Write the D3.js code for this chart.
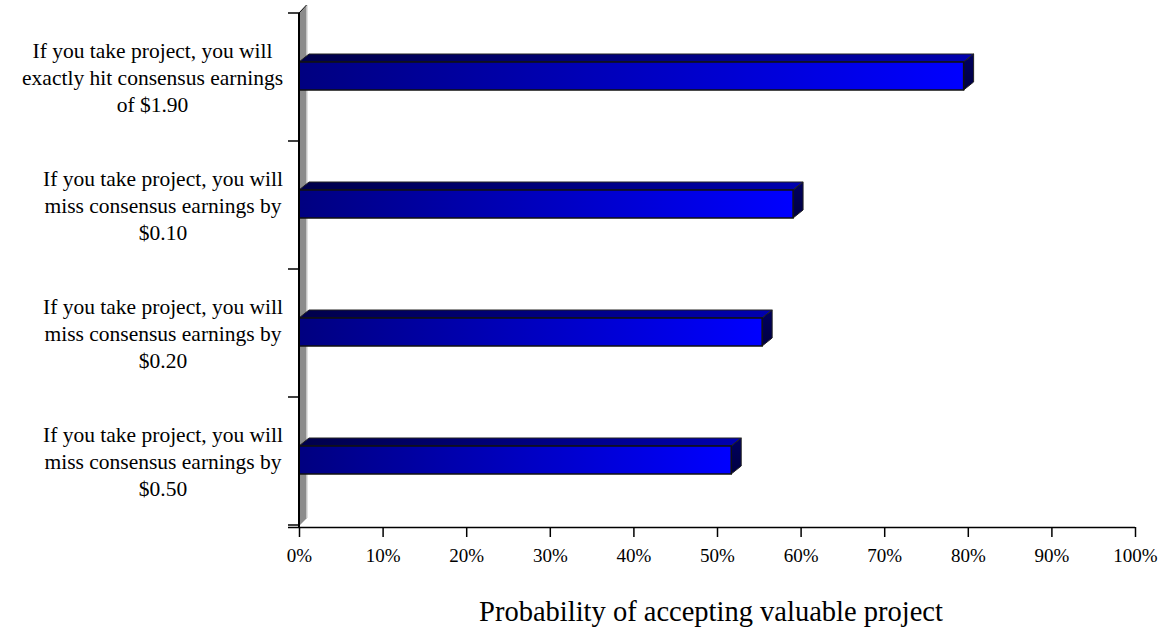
<!DOCTYPE html>
<html><head><meta charset="utf-8">
<script src="https://cdn.jsdelivr.net/npm/d3@7"></script>
<style>body{margin:0;background:#fff}svg{display:block}text{font-family:"Liberation Serif","Times New Roman",serif;fill:#000}</style>
</head><body><svg id="c" width="1168" height="629"></svg>
<script>
const categories = [
  ["If you take project, you will", "exactly hit consensus earnings", "of $1.90"],
  ["If you take project, you will", "miss consensus earnings by", "$0.10"],
  ["If you take project, you will", "miss consensus earnings by", "$0.20"],
  ["If you take project, you will", "miss consensus earnings by", "$0.50"]
];
const values = [79.5, 59.1, 55.4, 51.7];
const xTicks = [0,10,20,30,40,50,60,70,80,90,100];
const axisTitle = "Probability of accepting valuable project";

const svg = d3.select("#c");
const L = 299, R = 1135, T = 13, B = 525;
const dx = 10, dy = 8, barH = 28, wallD = 8;
const x = d3.scaleLinear().domain([0,100]).range([L,R]);
const y = d3.scaleBand().domain(d3.range(categories.length)).range([T,B]).padding(0);

const defs = svg.append("defs");
function grad(id, c0, c1, vertical){
  const g = defs.append("linearGradient").attr("id",id).attr("x1",0).attr("y1",0)
    .attr("x2",vertical?0:1).attr("y2",vertical?1:0);
  g.append("stop").attr("offset","0%").attr("stop-color",c0);
  g.append("stop").attr("offset","100%").attr("stop-color",c1);
}
grad("gFront","#000080","#0000ff");
grad("gTop","#00004a","#0000b0");
grad("gSide","#000060","#000040",true);

// side wall (3D)
svg.append("path")
  .attr("d",`M${L},${T} L${L+wallD},${T-dy} L${L+wallD},${B+1-dy} L${L},${B+1} Z`)
  .attr("fill","#8c8c8c").attr("stroke","none");
svg.append("line").attr("x1",L+wallD).attr("x2",L+wallD).attr("y1",T-dy).attr("y2",B+1-dy)
  .attr("stroke","#d8d8d8").attr("stroke-width",1.5);
svg.append("line").attr("x1",L+wallD-0.5).attr("x2",L).attr("y1",T-dy).attr("y2",T)
  .attr("stroke","#000").attr("stroke-width",1);

// bars
const bars = svg.append("g").selectAll("g").data(values).join("g");
bars.each(function(v,i){
  const g = d3.select(this);
  const cy = y(i) + y.bandwidth()/2;
  const y0 = cy - barH/2 - 1, y1 = cy + barH/2 - 1;
  const x0 = x(0), x1 = x(v);
  g.append("path").attr("d",`M${x0},${y0} L${x0+dx},${y0-dy} L${x1+dx},${y0-dy} L${x1},${y0} Z`)
    .attr("fill","url(#gTop)").attr("stroke","#222").attr("stroke-width",1).attr("stroke-linejoin","round");
  g.append("path").attr("d",`M${x1},${y0} L${x1+dx},${y0-dy} L${x1+dx},${y1-dy} L${x1},${y1} Z`)
    .attr("fill","url(#gSide)").attr("stroke","#222").attr("stroke-width",1).attr("stroke-linejoin","round");
  g.append("rect").attr("x",x0).attr("y",y0).attr("width",x1-x0).attr("height",y1-y0)
    .attr("fill","url(#gFront)").attr("stroke","#111").attr("stroke-width",1.5);
});

// category axis line + ticks
svg.append("line").attr("x1",L).attr("x2",L).attr("y1",T).attr("y2",B+2)
  .attr("stroke","#000").attr("stroke-width",2);
const catTicks = d3.range(categories.length+1).map(i => i<categories.length ? y(i) : B);
svg.append("g").selectAll("line").data(catTicks).join("line")
  .attr("x1",L-11).attr("x2",L).attr("y1",d=>d).attr("y2",d=>d)
  .attr("stroke","#000").attr("stroke-width",1.5);

// x axis
const xAxis = d3.axisBottom(x).tickValues(xTicks).tickFormat(d=>d+"%").tickSize(10).tickSizeOuter(0);
const ax = svg.append("g").attr("transform",`translate(0,${B+2})`).call(xAxis);
ax.select(".domain").attr("d",`M${L-11},0.5H${R}`).attr("stroke","#000").attr("stroke-width",1.5);
ax.selectAll(".tick line").attr("stroke","#000").attr("stroke-width",1.5);
ax.selectAll(".tick text").attr("font-size",19).attr("dy",null).attr("y",35)
  .style("font-family","'Liberation Serif','Times New Roman',serif");

// category labels
const labelFont = 21.5, lineH = 27, labelRight = 283;
const lg = svg.append("g").attr("font-size",labelFont);
categories.forEach((lines,i)=>{
  const cy = y(i) + y.bandwidth()/2;
  const grp = lg.append("g");
  const ts = lines.map((ln,k)=> grp.append("text").attr("text-anchor","middle")
     .attr("y", cy + (k-(lines.length-1)/2)*lineH + labelFont*0.35).text(ln));
  const w = d3.max(ts, t=>t.node().getComputedTextLength());
  ts.forEach(t=>t.attr("x", labelRight - w/2));
});

svg.append("text").attr("x",711).attr("y",621).attr("text-anchor","middle")
  .attr("font-size",28.5).text(axisTitle);
</script></body></html>
